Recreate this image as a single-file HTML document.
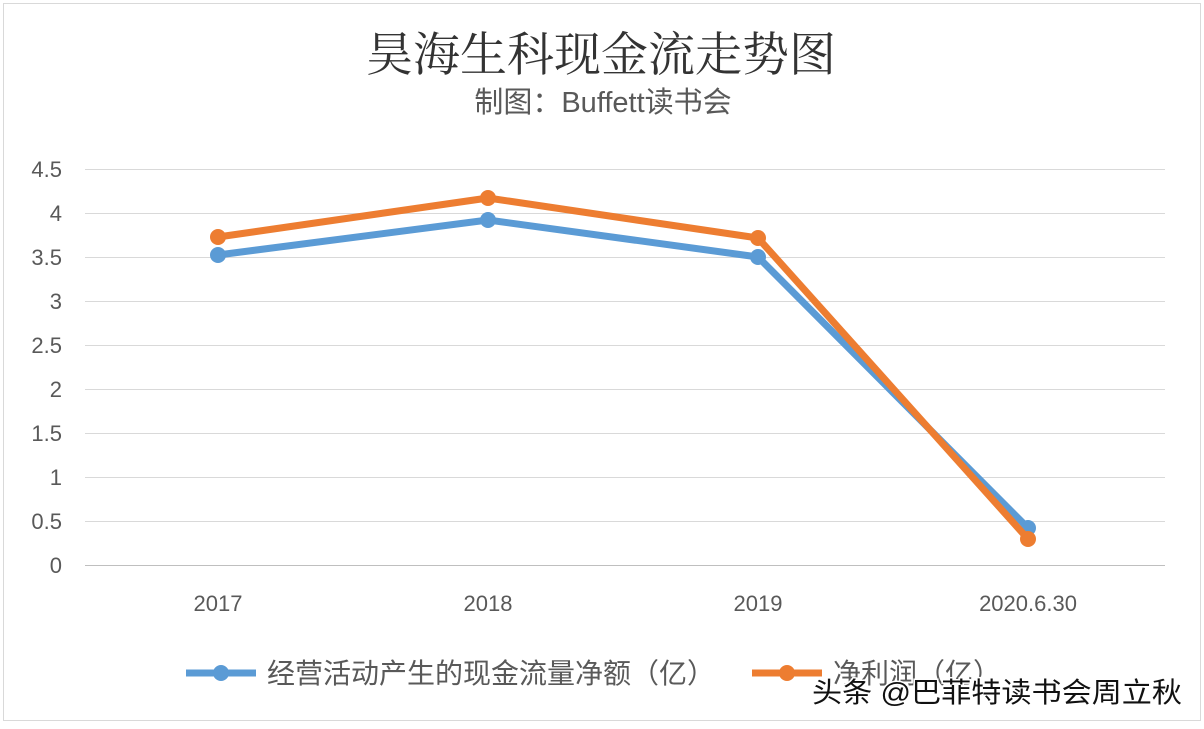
<!DOCTYPE html>
<html><head><meta charset="utf-8"><style>
html,body{margin:0;padding:0;background:#fff;}
</style></head><body>
<svg width="1204" height="724" xmlns="http://www.w3.org/2000/svg" font-family="'Liberation Sans','Noto Sans CJK SC',sans-serif">
<rect x="0" y="0" width="1204" height="724" fill="#fff"/>
<rect x="3.5" y="3.5" width="1197" height="717" fill="none" stroke="#d9d9d9" stroke-width="1"/>
<text x="601" y="71" text-anchor="middle" font-family="'Noto Serif CJK SC',serif" font-size="47" fill="#333">昊海生科现金流走势图</text>
<text x="603" y="112" text-anchor="middle" font-size="29" fill="#595959">制图：Buffett读书会</text>
<g stroke="#d9d9d9" stroke-width="1">
<line x1="85" x2="1165" y1="169.5" y2="169.5"/><line x1="85" x2="1165" y1="213.5" y2="213.5"/>
<line x1="85" x2="1165" y1="257.5" y2="257.5"/><line x1="85" x2="1165" y1="301.5" y2="301.5"/>
<line x1="85" x2="1165" y1="345.5" y2="345.5"/><line x1="85" x2="1165" y1="389.5" y2="389.5"/>
<line x1="85" x2="1165" y1="433.5" y2="433.5"/><line x1="85" x2="1165" y1="477.5" y2="477.5"/>
<line x1="85" x2="1165" y1="521.5" y2="521.5"/><line x1="85" x2="1165" y1="565.5" y2="565.5" stroke="#bfbfbf"/>
</g>
<g font-size="22" fill="#595959" text-anchor="end">
<text x="62" y="177">4.5</text><text x="62" y="221">4</text><text x="62" y="265">3.5</text>
<text x="62" y="309">3</text><text x="62" y="353">2.5</text><text x="62" y="397">2</text>
<text x="62" y="441">1.5</text><text x="62" y="485">1</text><text x="62" y="529">0.5</text><text x="62" y="573">0</text>
</g>
<g font-size="22" fill="#595959" text-anchor="middle">
<text x="218" y="611">2017</text><text x="488" y="611">2018</text><text x="758" y="611">2019</text><text x="1028" y="611">2020.6.30</text>
</g>
<polyline points="218,255 488,220 758,257 1028,528" fill="none" stroke="#5b9bd5" stroke-width="7" stroke-linejoin="round"/>
<g fill="#5b9bd5"><circle cx="218" cy="255" r="8"/><circle cx="488" cy="220" r="8"/><circle cx="758" cy="257" r="8"/><circle cx="1028" cy="528" r="8"/></g>
<polyline points="218,237 488,198 758,238 1028,539" fill="none" stroke="#ed7d31" stroke-width="7" stroke-linejoin="round"/>
<g fill="#ed7d31"><circle cx="218" cy="237" r="8"/><circle cx="488" cy="198" r="8"/><circle cx="758" cy="238" r="8"/><circle cx="1028" cy="539" r="8"/></g>
<line x1="186" x2="256" y1="673" y2="673" stroke="#5b9bd5" stroke-width="7"/>
<circle cx="221" cy="673" r="8" fill="#5b9bd5"/>
<text x="267" y="683" font-size="28" fill="#595959">经营活动产生的现金流量净额（亿）</text>
<line x1="752" x2="822" y1="673" y2="673" stroke="#ed7d31" stroke-width="7"/>
<circle cx="787" cy="673" r="8" fill="#ed7d31"/>
<text x="833" y="683" font-size="28" fill="#595959">净利润（亿）</text>
<text x="812" y="702" font-size="28" fill="#111" stroke="#fff" stroke-width="3" paint-order="stroke" textLength="370" lengthAdjust="spacingAndGlyphs">头条 @巴菲特读书会周立秋</text>
</svg>
</body></html>
